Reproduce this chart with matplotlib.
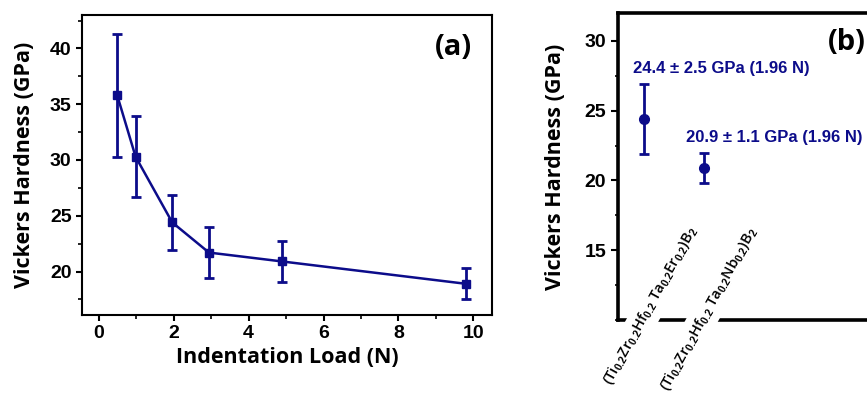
import matplotlib.pyplot as plt
from matplotlib.ticker import MultipleLocator

# panel (a): hardness vs indentation load
load = [0.49, 0.98, 1.96, 2.94, 4.9, 9.8]
hv = [35.8, 30.3, 24.4, 21.7, 20.9, 18.9]
hv_err = [5.5, 3.6, 2.5, 2.3, 1.8, 1.4]

# panel (b): two compositions at 1.96 N
comps = [r"(Ti$_{0.2}$Zr$_{0.2}$Hf$_{0.2}$ Ta$_{0.2}$Er$_{0.2}$)B$_2$",
         r"(Ti$_{0.2}$Zr$_{0.2}$Hf$_{0.2}$ Ta$_{0.2}$Nb$_{0.2}$)B$_2$"]
comp_hv = [24.4, 20.9]
comp_err = [2.5, 1.1]
comp_load = 1.96

blue = "#0c0c8a"
plt.rcParams["mathtext.fontset"] = "custom"
plt.rcParams["mathtext.rm"] = "Liberation Sans:bold"
plt.rcParams["mathtext.it"] = "Liberation Sans:bold:italic"
plt.rcParams["mathtext.bf"] = "Liberation Sans:bold"

tickfont = dict(family="Liberation Sans", weight="bold", size=14)
labfont = dict(family="Open Sans", weight="bold", size=15.5)

fig = plt.figure(figsize=(8.67, 3.95), dpi=100)

ax1 = fig.add_axes([0.0946, 0.2025, 0.4729, 0.7595])
ax1.errorbar(load, hv, yerr=hv_err, color=blue, marker="s", ms=6, lw=1.8,
             elinewidth=2, capsize=3.5, capthick=2)
ax1.set_xlim(-0.45, 10.5)
ax1.set_ylim(16.1, 43.0)
ax1.xaxis.set_major_locator(MultipleLocator(2))
ax1.xaxis.set_minor_locator(MultipleLocator(1))
ax1.yaxis.set_minor_locator(MultipleLocator(2.5))
ax1.set_yticks([20, 25, 30, 35, 40])
for s in ax1.spines.values():
    s.set_linewidth(1.5)
ax1.tick_params(which="major", direction="out", length=4, width=1.5)
ax1.tick_params(which="minor", direction="out", length=3, width=1.2)
for t in ax1.get_xticklabels() + ax1.get_yticklabels():
    t.set_fontproperties(tickfont)
    t.set_fontsize(14)
ax1.set_xlabel("Indentation Load (N)", **labfont, labelpad=3)
ax1.set_ylabel("Vickers Hardness (GPa)", **labfont, labelpad=11)
ax1.text(0.95, 0.94, "(a)", transform=ax1.transAxes, ha="right", va="top",
         family="Open Sans", weight="bold", size=21)

ax2 = fig.add_axes([0.7128, 0.19, 0.29, 0.777])
xs = [1, 2]
ax2.errorbar(xs, comp_hv, yerr=comp_err, color=blue, marker="o", ms=7, ls="none",
             elinewidth=2, capsize=3.5, capthick=2)
ax2.set_xlim(0.56, 4.78)
ax2.set_ylim(10, 32)
ax2.set_xticks([])
ax2.set_yticks([15, 20, 25, 30])
ax2.yaxis.set_minor_locator(MultipleLocator(2.5))
for s in ax2.spines.values():
    s.set_linewidth(2.6)
ax2.tick_params(which="major", direction="out", length=5, width=1.5)
ax2.tick_params(which="minor", direction="out", length=2.5, width=1.2)
for t in ax2.get_yticklabels():
    t.set_fontproperties(tickfont)
    t.set_fontsize(14)
ax2.set_ylabel("Vickers Hardness (GPa)", **labfont, labelpad=13)
ax2.text(0.985, 0.95, "(b)", transform=ax2.transAxes, ha="right", va="top",
         family="Open Sans", weight="bold", size=21)

for x, v, e, c, dx, ty in zip(xs, comp_hv, comp_err, comps, [-0.19, -0.30], [28.0, 23.1]):
    ax2.text(x + dx, ty, f"{v} ± {e} GPa ({comp_load} N)", color=blue,
             family="Liberation Sans", weight="bold", size=12, ha="left", va="center")
    ax2.text(x + 0.83, 16.6, c, rotation=61, rotation_mode="anchor", ha="right",
             va="center", family="Open Sans", weight="semibold", size=10.5,
             bbox=dict(facecolor="white", edgecolor="none", pad=4), zorder=5)

fig.savefig("out.png", dpi=100)
